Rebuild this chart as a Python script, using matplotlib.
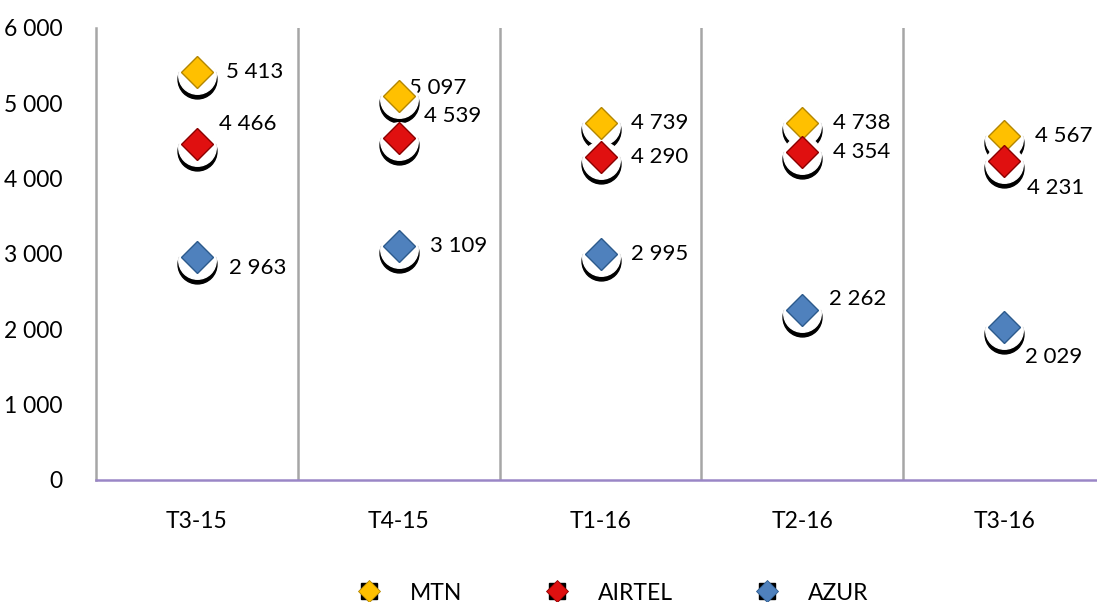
import matplotlib
matplotlib.use('Agg')
import matplotlib.pyplot as plt
from matplotlib.lines import Line2D
from matplotlib.transforms import offset_copy

plt.rcParams['font.family'] = ['Lato', 'DejaVu Sans']

periods = ['T3-15', 'T4-15', 'T1-16', 'T2-16', 'T3-16']
mtn = [5413, 5097, 4739, 4738, 4567]
airtel = [4466, 4539, 4290, 4354, 4231]
azur = [2963, 3109, 2995, 2262, 2029]

# label offsets in pixels from the marker (dx, dy), as placed in the original
mtn_off = [(58, 0), (39, 8), (59, 0), (59, 0), (60, 0)]
airtel_off = [(51, 20), (54, 22), (59, 0), (59, 0), (52, -27)]
azur_off = [(61, -11), (60, 0), (59, 0), (55, 11), (50, -30)]

series = [
    ('MTN', mtn, '#FFC000', '#B38600', mtn_off),
    ('AIRTEL', airtel, '#E01010', '#8B0000', airtel_off),
    ('AZUR', azur, '#4F81BD', '#2C5A8C', azur_off),
]


def fmt(v):
    return f'{v:,.0f}'.replace(',', ' ')


fig = plt.figure(figsize=(10.97, 6.02), dpi=100)
ax = fig.add_axes([96 / 1097, 1 - 480 / 602, 1009 / 1097, 452 / 602])
ax.set_xlim(-0.5, 4.5)
ax.set_ylim(0, 6000)

for b in [0.5, 1.5, 2.5, 3.5]:
    ax.axvline(b, color='#A6A6A6', lw=1.8, zorder=1)

x = list(range(len(periods)))
px = 72 / 100  # points per pixel
for name, vals, fc, ec, offs in series:
    sh1 = offset_copy(ax.transData, fig=fig, x=0, y=-7 * px, units='points')
    sh2 = offset_copy(ax.transData, fig=fig, x=0, y=-3 * px, units='points')
    ax.plot(x, vals, 'o', ms=28, color='black', transform=sh1, zorder=3)
    ax.plot(x, vals, 'o', ms=27, color='white', transform=sh2, zorder=4)
    ax.plot(x, vals, 'D', ms=16.5, mfc=fc, mec=ec, mew=1, zorder=5)
    for xi, v, (dx, dy) in zip(x, vals, offs):
        ax.annotate(fmt(v), (xi, v), xytext=(dx * px, dy * px), textcoords='offset points',
                    ha='center', va='center', fontsize=16, zorder=2,
                    bbox=dict(boxstyle='square,pad=0.3', fc='white', ec='none'))

ax.set_xticks(x)
ax.set_xticklabels(periods)
ax.set_yticks(range(0, 6001, 1000))
ax.set_yticklabels([fmt(v) for v in range(0, 6001, 1000)])
ax.tick_params(length=0, labelsize=16.5)
ax.tick_params(axis='x', pad=22)
ax.tick_params(axis='y', pad=24)
for s in ['top', 'right']:
    ax.spines[s].set_visible(False)
ax.spines['left'].set_color('#A6A6A6')
ax.spines['left'].set_linewidth(1.8)
ax.spines['bottom'].set_color('#9A86C6')
ax.spines['bottom'].set_linewidth(1.8)

handles = []
for name, vals, fc, ec, offs in series:
    handles.append((Line2D([], [], marker='s', ms=12, color='black', ls='none'),
                    Line2D([], [], marker='D', ms=11, mfc=fc, mec=ec, mew=0.6, ls='none')))
fig.legend(handles, [s[0] for s in series], ncol=3, frameon=False, loc='center',
           bbox_to_anchor=(612 / 1097, 1 - 593 / 602), fontsize=16.5,
           columnspacing=3.5, handletextpad=1.2, handlelength=1.2)

fig.savefig('out.png', dpi=100)
